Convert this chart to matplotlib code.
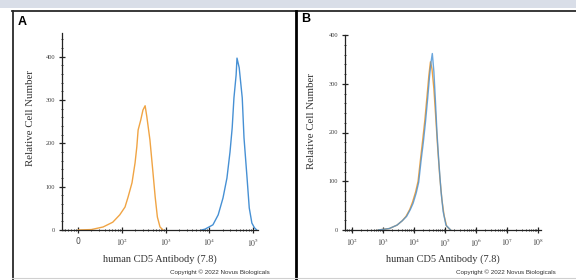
import numpy as np
import matplotlib
matplotlib.use("Agg")
import matplotlib.pyplot as plt
from matplotlib.ticker import MultipleLocator, FixedLocator, LogLocator, NullFormatter
from matplotlib.transforms import Bbox, TransformedBbox
from matplotlib.lines import Line2D
from matplotlib.patches import Rectangle

plt.rcParams['mathtext.fontset'] = 'stix'

# Painel A - isotipo (laranja) e CD5 (azul); x em log10 da intensidade
a_iso_log = [1.00, 1.30, 1.57, 1.79, 1.95, 2.07, 2.14, 2.23, 2.30, 2.34, 2.37, 2.43, 2.48,
             2.53, 2.57, 2.64, 2.71, 2.76, 2.81, 2.87, 2.94]
a_iso_y = [0, 1, 7, 18, 35, 53, 76, 109, 155, 192, 231, 254, 277,
           287, 261, 208, 132, 76, 30, 7, 0]
a_cd5_log = [3.82, 3.90, 4.08, 4.20, 4.31, 4.40, 4.47, 4.52, 4.56, 4.61, 4.63, 4.68, 4.75,
             4.79, 4.86, 4.91, 4.97, 5.03, 5.08]
a_cd5_y = [0, 2, 12, 35, 74, 120, 180, 236, 305, 358, 397, 375, 305,
           213, 120, 51, 16, 5, 0]

# Painel B - as duas curvas quase sobrepostas
b_iso_log = [2.84, 3.20, 3.45, 3.62, 3.74, 3.86, 3.95, 4.05, 4.13, 4.21, 4.28, 4.35, 4.42,
             4.48, 4.53, 4.58, 4.64, 4.70, 4.76, 4.83, 4.90, 4.97, 5.05, 5.18]
b_iso_y = [0, 3, 10, 19, 28, 42, 57, 78, 100, 146, 185, 226, 275,
           318, 345, 330, 290, 232, 172, 110, 62, 30, 8, 0]
b_cd5_log = [2.84, 3.20, 3.45, 3.62, 3.76, 3.88, 3.97, 4.07, 4.15, 4.23, 4.30, 4.37, 4.44,
             4.50, 4.55, 4.59, 4.64, 4.69, 4.74, 4.80, 4.87, 4.94, 5.03, 5.18]
b_cd5_y = [0, 3, 10, 19, 28, 42, 55, 76, 98, 144, 180, 222, 270,
           315, 345, 362, 325, 265, 200, 140, 80, 38, 10, 0]

a_ticks = [10, 1e2, 1e3, 1e4, 1e5]
a_ticklabels = ['0', r'$10^2$', r'$10^3$', r'$10^4$', r'$10^5$']
b_ticks = [1e2, 1e3, 1e4, 1e5, 1e6, 1e7, 1e8]
b_ticklabels = [r'$10^2$', r'$10^3$', r'$10^4$', r'$10^5$', r'$10^6$', r'$10^7$', r'$10^8$']
y_ticks = [0, 100, 200, 300, 400]

orange = '#f0a444'
blue = '#4690d4'
W, H = 576, 280

fig = plt.figure(figsize=(5.76, 2.8), dpi=100)
fig.patch.set_facecolor('white')

def fx(px):
    return px / W
def fy(py):
    return 1 - py / H

# faixa superior e molduras
fig.add_artist(Rectangle((0, fy(8)), 1, 8 / H, transform=fig.transFigure,
                         facecolor='#d9dee8', edgecolor='none'))
fig.add_artist(Line2D([fx(12), 1], [fy(10.5), fy(10.5)], transform=fig.transFigure, color='#2a2a2a', lw=1.3))
fig.add_artist(Line2D([fx(12.5), fx(12.5)], [0, fy(10.5)], transform=fig.transFigure, color='#2a2a2a', lw=1.3))
fig.add_artist(Line2D([fx(296), fx(296)], [0, fy(10.5)], transform=fig.transFigure, color='black', lw=2.0))
fig.add_artist(Line2D([fx(12), 1], [fy(278), fy(278)], transform=fig.transFigure, color='#d0d0d0', lw=0.8))

def style_axis(ax, xticks, xlabels, ymax, ylab_pos):
    ax.set_xscale('log')
    ax.spines['top'].set_visible(False)
    ax.spines['right'].set_visible(False)
    for s in ['left', 'bottom']:
        ax.spines[s].set_linewidth(0.9)
        ax.spines[s].set_color('#222222')
    ax.set_ylim(0, ymax)
    ax.yaxis.set_major_locator(FixedLocator(y_ticks))
    ax.yaxis.set_minor_locator(MultipleLocator(20))
    ax.set_yticklabels([str(v) for v in y_ticks], family='Liberation Serif', fontsize=4.6, color='#444444')
    ax.xaxis.set_major_locator(FixedLocator(xticks))
    ax.xaxis.set_minor_locator(LogLocator(base=10, subs=np.arange(2, 10), numticks=20))
    ax.xaxis.set_minor_formatter(NullFormatter())
    ax.set_xticklabels(xlabels, fontsize=5.6, color='#444444')
    ax.tick_params(axis='both', which='major', direction='inout', length=4, width=0.9, pad=3, color='#222222')
    ax.tick_params(axis='both', which='minor', direction='inout', length=2, width=0.6, color='#222222')
    ax.set_ylabel('Relative Cell Number', family='Liberation Serif', fontsize=7.8, color='#333333')
    ax.yaxis.set_label_coords(*ylab_pos)
    ax.set_xlabel('human CD5 Antibody (7.8)', family='Liberation Serif', fontsize=7.5, color='#333333', labelpad=4)

def lin(logs):
    return [10 ** v for v in logs]

# Painel A
axA = fig.add_axes([fx(62), fy(230), fx(258) - fx(62), fy(33) - fy(230)])
axA.plot(lin(a_iso_log), a_iso_y, color=orange, lw=1.0)
axA.plot(lin(a_cd5_log), a_cd5_y, color=blue, lw=1.0)
axA.set_xlim(10**0.63, 10**5.11)
style_axis(axA, a_ticks, a_ticklabels, 455, (-0.14, 0.57))

# Painel B
axB = fig.add_axes([fx(345), fy(230), fx(541) - fx(345), fy(35) - fy(230)])
axB.plot(lin(b_iso_log), b_iso_y, color=orange, lw=1.0)
axB.plot(lin(b_cd5_log), b_cd5_y, color=blue, lw=1.0, alpha=0.8)
axB.set_xlim(10**1.77, 10**8.1)
style_axis(axB, b_ticks, b_ticklabels, 400, (-0.15, 0.56))

# letras dos painéis
fig.text(fx(18), fy(22), 'A', fontsize=9, fontweight='bold', family='Liberation Sans', va='center')
fig.text(fx(301), fy(19), 'B', fontsize=9, fontweight='bold', family='Liberation Sans', va='center')

# copyright recortado na borda de cada painel
for x0, x1 in [(170, 295), (456, 576)]:
    t = fig.text(fx(x0), fy(272), 'Copyright \u00a9 2022 Novus Biologicals', fontsize=4.5,
                 family='Liberation Sans', color='#333333', va='center')
    t.set_clip_box(TransformedBbox(Bbox([[fx(x0 - 2), 0], [fx(x1), 1]]), fig.transFigure))
    t.set_clip_on(True)

fig.savefig('out.png', dpi=100)
